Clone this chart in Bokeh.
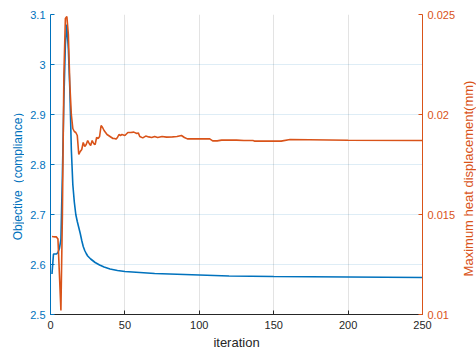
import math
from bokeh.plotting import figure
from bokeh.layouts import row
from bokeh.models import LinearAxis, Range1d, FixedTicker, CustomJSTickFormatter
from bokeh.core.properties import value
from bokeh.embed import file_html
from bokeh.resources import INLINE

# Objective (compliance) per iteration
obj_iter = [1, 2, 3, 4, 5, 6, 7, 8, 9, 10, 11, 12, 13, 14, 15, 16, 17, 18, 19, 20,
            21, 22, 23, 24, 25, 27, 30, 33, 36, 40, 45, 50, 60, 70, 80, 100, 120, 150, 200, 250]
obj_val = [2.581, 2.621, 2.621, 2.621, 2.624, 2.632, 2.650, 2.780, 2.930, 3.040, 3.080, 3.030,
           2.950, 2.830, 2.760, 2.725, 2.700, 2.686, 2.674, 2.662, 2.648, 2.636, 2.628, 2.622,
           2.617, 2.611, 2.604, 2.599, 2.595, 2.591, 2.588, 2.586, 2.584, 2.582, 2.581, 2.579,
           2.577, 2.576, 2.575, 2.574]

# Maximum heat displacement (mm) per iteration
disp_iter = [1, 2, 3, 4, 5, 6, 7, 8, 9, 10, 11, 12, 13, 14, 15, 16, 17, 18, 19, 20,
             21, 22, 23, 24, 25, 26, 27, 28, 29, 30, 31, 32, 33, 34, 35, 36, 37, 38, 39, 40,
             41, 42, 43, 44, 45, 46, 47, 48, 50, 52, 54, 56, 58, 59, 60, 62, 64, 66, 68, 70,
             72, 75, 78, 82, 85, 88, 90, 92, 100, 107, 109, 112, 115, 125, 130, 136, 137, 155,
             161, 200, 250]
disp_val = [0.01390, 0.01389, 0.01388, 0.01388, 0.01378, 0.01200, 0.01020, 0.01500, 0.02200,
            0.02480, 0.02490, 0.02400, 0.02150, 0.02000, 0.01930, 0.01915, 0.01910, 0.01895,
            0.01800, 0.01815, 0.01825, 0.01860, 0.01840, 0.01850, 0.01870, 0.01855, 0.01845,
            0.01870, 0.01855, 0.01850, 0.01885, 0.01880, 0.01890, 0.01945, 0.01935, 0.01920,
            0.01910, 0.01900, 0.01895, 0.01890, 0.01885, 0.01880, 0.01880, 0.01877, 0.01885,
            0.01900, 0.01895, 0.01900, 0.01895, 0.01910, 0.01910, 0.01912, 0.01905, 0.01908,
            0.01890, 0.01883, 0.01892, 0.01888, 0.01885, 0.01890, 0.01885, 0.01890, 0.01887,
            0.01888, 0.01890, 0.01895, 0.01885, 0.01878, 0.01878, 0.01878, 0.01868, 0.01868,
            0.01872, 0.01872, 0.01870, 0.01870, 0.01867, 0.01867, 0.01875, 0.01871, 0.01870]

x_ticks = [0, 50, 100, 150, 200, 250]
left_ticks = [2.5, 2.6, 2.7, 2.8, 2.9, 3.0, 3.1]
right_ticks = [0.01, 0.015, 0.02, 0.025]

x_title = "iteration"
left_title = "Objective（compliance）"
right_title = "Maximum heat displacement(mm)"

BLUE = "#0072BD"
ORANGE = "#D95319"
DARK = "#262626"
FONT = "Liberation Sans"
H = 351

fmt = CustomJSTickFormatter(code="return parseFloat(tick.toFixed(4)).toString();")

p = figure(frame_width=372, frame_height=300, output_backend="svg", toolbar_location=None,
           x_range=Range1d(0, 250), y_range=Range1d(2.5, 3.1),
           min_border_left=26, min_border_right=39, min_border_top=14, min_border_bottom=37,
           background_fill_color="white", border_fill_color="white")
p.outline_line_color = None
p.extra_y_ranges = {"disp": Range1d(0.01, 0.025)}

# grids
p.xgrid.ticker = FixedTicker(ticks=x_ticks)
p.ygrid.ticker = FixedTicker(ticks=left_ticks)
p.xgrid.grid_line_color = DARK
p.xgrid.grid_line_alpha = 0.13
p.ygrid.grid_line_color = BLUE
p.ygrid.grid_line_alpha = 0.13

p.line(obj_iter, obj_val, line_color=BLUE, line_width=1.6)
p.line(disp_iter, disp_val, line_color=ORANGE, line_width=1.6, y_range_name="disp")

# bottom axis
xa = p.xaxis[0]
xa.ticker = FixedTicker(ticks=x_ticks)
xa.formatter = fmt
xa.axis_label = x_title

# left axis
ya = p.yaxis[0]
ya.ticker = FixedTicker(ticks=left_ticks)
ya.formatter = fmt

# right axis
ra = LinearAxis(y_range_name="disp", ticker=FixedTicker(ticks=right_ticks), formatter=fmt)
p.add_layout(ra, "right")

for ax, col in ((xa, DARK), (ya, BLUE), (ra, ORANGE)):
    ax.axis_line_color = col
    ax.major_tick_line_color = col
    ax.major_tick_in = 4
    ax.major_tick_out = 0
    ax.minor_tick_line_color = None
    ax.major_label_text_color = col
    ax.major_label_text_font = FONT
    ax.major_label_text_font_size = "11px"
    ax.axis_label_text_color = col
    ax.axis_label_text_font = FONT
    ax.axis_label_text_font_size = "13px"
    ax.axis_label_text_font_style = "normal"
    ax.major_label_standoff = 5

xa.major_label_standoff = 6
xa.axis_label_standoff = 3


def title_strip(width, text, color, size, cx, cy):
    """A narrow blank figure that only carries one vertical axis title (reading bottom-to-top)."""
    f = figure(frame_width=width, frame_height=H, output_backend="svg", toolbar_location=None,
               x_range=Range1d(0, width), y_range=Range1d(H, 0), min_border=0,
               background_fill_color="white", border_fill_color="white")
    f.axis.visible = False
    f.grid.visible = False
    f.outline_line_color = None
    f.text(x=[cx], y=[cy], text=[text], angle=math.pi / 2, text_align="center",
           text_baseline="middle", text_color=color, text_font=value(FONT),
           text_font_size=size)
    return f


left_strip = title_strip(24, left_title, BLUE, "12px", 17, 158.5)
right_strip = title_strip(15, right_title, ORANGE, "13px", 7, 164)

layout = row(left_strip, p, right_strip, spacing=0)

open("out.html", "w").write(file_html(layout, INLINE))
